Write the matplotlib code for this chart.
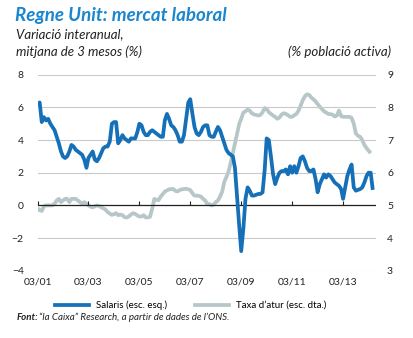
import numpy as np
import pandas as pd
import matplotlib
matplotlib.use('Agg')
import matplotlib.pyplot as plt

plt.rcParams['font.family'] = ['Lato', 'DejaVu Sans']

# monthly series, starting March 2001
start_month = '2001-03'

# wages, year-on-year %, 3-month average (left axis)
salaris = [
    6.2, 6.3, 5.1, 5.4, 5.2, 5.3, 5.0, 4.8, 4.6, 4.2, 3.8, 3.3,
    3.0, 2.9, 3.0, 3.3, 3.7, 3.6, 3.4, 3.3, 3.2, 3.1, 2.8, 2.3,
    2.9, 3.1, 3.3, 2.8, 2.7, 2.9, 3.2, 3.5, 3.6, 3.6, 3.9, 5.0,
    5.1, 5.1, 3.8, 4.0, 4.3, 4.1, 4.0, 3.9, 4.1, 4.1, 4.1, 4.5,
    5.0, 4.9, 4.5, 4.3, 4.3, 4.5, 4.6, 4.5, 4.4, 4.3, 4.2, 4.2,
    5.2, 5.6, 5.3, 4.9, 4.8, 4.6, 4.3, 3.9, 3.9, 4.3, 5.3, 6.3,
    6.5, 5.6, 4.8, 4.4, 4.3, 4.5, 4.8, 4.9, 4.9, 4.3, 4.2, 4.2,
    4.5, 4.8, 4.6, 4.2, 3.8, 3.4, 3.2, 3.1, 3.0, 2.3, 0.5, -1.3,
    -2.8, -1.4, 0.4, 1.1, 0.9, 0.6, 0.6, 0.65, 0.7, 0.7, 0.8, 2.2,
    4.1, 4.0, 3.0, 1.9, 1.3, 1.7, 2.0, 2.1, 2.1, 2.2, 1.9, 2.4,
    2.0, 2.4, 2.0, 2.4, 2.9, 3.0, 2.7, 2.3, 2.1, 2.1, 2.2, 1.6,
    0.8, 1.3, 1.6, 1.9, 1.7, 1.9, 1.8, 1.6, 1.4, 1.3, 1.2, 1.0,
    0.4, 1.1, 1.8, 2.2, 2.5, 1.1, 0.9, 0.95, 1.0, 1.1, 1.4, 1.8,
    2.0, 2.0, 0.95,
]

# unemployment rate, % of labour force (right axis)
atur = [
    4.92, 4.85, 4.83, 4.97, 5.0, 5.0, 5.0, 5.0, 5.05, 5.15, 5.2, 5.1,
    5.15, 5.2, 5.2, 5.1, 5.2, 5.2, 5.2, 5.15, 5.1, 5.05, 5.1, 5.05,
    5.0, 4.96, 4.94, 4.97, 5.0, 4.98, 4.94, 4.91, 4.87, 4.8, 4.75, 4.71,
    4.73, 4.76, 4.7, 4.72, 4.7, 4.64, 4.63, 4.66, 4.72, 4.76, 4.74, 4.69,
    4.66, 4.66, 4.7, 4.63, 4.63, 4.65, 4.9, 5.2, 5.17, 5.16, 5.27, 5.35,
    5.42, 5.46, 5.49, 5.5, 5.5, 5.44, 5.43, 5.47, 5.49, 5.5, 5.51, 5.49,
    5.47, 5.37, 5.3, 5.3, 5.29, 5.27, 5.2, 5.15, 5.04, 5.04, 5.0, 5.02,
    5.1, 5.15, 5.27, 5.42, 5.72, 5.87, 6.04, 6.3, 6.6, 6.9, 7.2, 7.5,
    7.65, 7.84, 7.88, 7.93, 7.9, 7.82, 7.78, 7.77, 7.75, 7.77, 7.85, 7.98,
    7.95, 7.85, 7.8, 7.75, 7.71, 7.65, 7.69, 7.78, 7.82, 7.8, 7.76, 7.71,
    7.71, 7.76, 7.8, 7.9, 8.05, 8.22, 8.34, 8.4, 8.38, 8.3, 8.25, 8.18,
    8.1, 8.02, 7.95, 7.88, 7.84, 7.8, 7.79, 7.78, 7.72, 7.75, 7.9, 7.73,
    7.71, 7.71, 7.71, 7.71, 7.68, 7.5, 7.2, 7.13, 7.1, 7.0, 6.85, 6.75,
    6.68, 6.6,
]

xtick_dates = ['2001-03', '2003-03', '2005-03', '2007-03',
               '2009-03', '2011-03', '2013-03']
xtick_labels = ['03/01', '03/03', '03/05', '03/07', '03/09', '03/11', '03/13']
left_ticks = [-4, -2, 0, 2, 4, 6, 8]
right_ticks = [3, 4, 5, 6, 7, 8, 9]

blue = '#1570b8'
grey = '#b7c6c8'
title_blue = '#1a86cf'
ink = '#222222'

dates_s = pd.date_range(start_month, periods=len(salaris), freq='MS')
dates_a = pd.date_range(start_month, periods=len(atur), freq='MS')

fig = plt.figure(figsize=(4.14, 3.38), dpi=100)
ax = fig.add_axes([0.0906, 0.199, 0.8174, 0.580])
ax2 = ax.twinx()

ax.set_ylim(-4, 8)
ax2.set_ylim(3, 9)
ax.set_xlim(pd.Timestamp('2001-03-01'), pd.Timestamp('2014-06-15'))

for yv in left_ticks:
    ax.axhline(yv, color='#c9c9c9', lw=0.8, zorder=0)
ax.axhline(0, color=ink, lw=0.9, zorder=1)

ax2.plot(dates_a, atur, color=grey, lw=2.7, solid_capstyle='butt', zorder=2)
ax.plot(dates_s, salaris, color=blue, lw=2.7, solid_capstyle='butt', zorder=3)
ax.set_zorder(ax2.get_zorder() + 1)
ax.patch.set_visible(False)

for a in (ax, ax2):
    for sp in a.spines.values():
        sp.set_visible(False)

ax.set_yticks(left_ticks)
ax2.set_yticks(right_ticks)
ax.tick_params(axis='y', length=0, pad=10, labelsize=7.5, colors=ink)
ax2.tick_params(axis='y', length=0, pad=8, labelsize=7.5, colors=ink)

xt = pd.to_datetime(xtick_dates)
ax.set_xticks(xt)
ax.set_xticklabels(xtick_labels)
ax.tick_params(axis='x', length=0, pad=5, labelsize=7.5, colors=ink)

# small tick marks sitting on the zero line
zero_frac = (0 - left_ticks[0]) / (left_ticks[-1] - left_ticks[0])
sec = ax.secondary_xaxis(zero_frac)
sec.set_xticks(xt)
sec.tick_params(axis='x', direction='in', length=3, width=0.8,
                labelbottom=False, labeltop=False, color=ink)
sec.spines['bottom'].set_visible(False)
sec.spines['top'].set_visible(False)

fig.text(0.037, 0.953, 'Regne Unit: mercat laboral', color=title_blue,
         fontsize=13.5, fontweight='bold', fontstyle='italic', va='center')
fig.text(0.039, 0.900, 'Variació interanual,', fontsize=9.5,
         fontstyle='italic', va='center', color=ink)
fig.text(0.039, 0.846, 'mitjana de 3 mesos (%)', fontsize=9.5,
         fontstyle='italic', va='center', color=ink)
fig.text(0.945, 0.846, '(% població activa)', fontsize=9.5,
         fontstyle='italic', va='center', ha='right', color=ink)

h1, = ax.plot([], [], color=blue, lw=2.7)
h2, = ax.plot([], [], color=grey, lw=2.7)
fig.legend([h1, h2], ['Salaris (esc. esq.)', 'Taxa d’atur (esc. dta.)'],
           loc='center', bbox_to_anchor=(0.461, 0.097), ncol=2,
           frameon=False, fontsize=7, handlelength=3.5, handletextpad=0.7,
           columnspacing=2.9, borderpad=0, borderaxespad=0)

fig.text(0.039, 0.062, 'Font:', fontsize=7, fontweight='bold',
         fontstyle='italic', va='center', color=ink)
fig.text(0.093, 0.062, '“la Caixa” Research, a partir de dades de l’ONS.',
         fontsize=7, fontstyle='italic', va='center', color=ink)

fig.savefig('out.png', dpi=100)
